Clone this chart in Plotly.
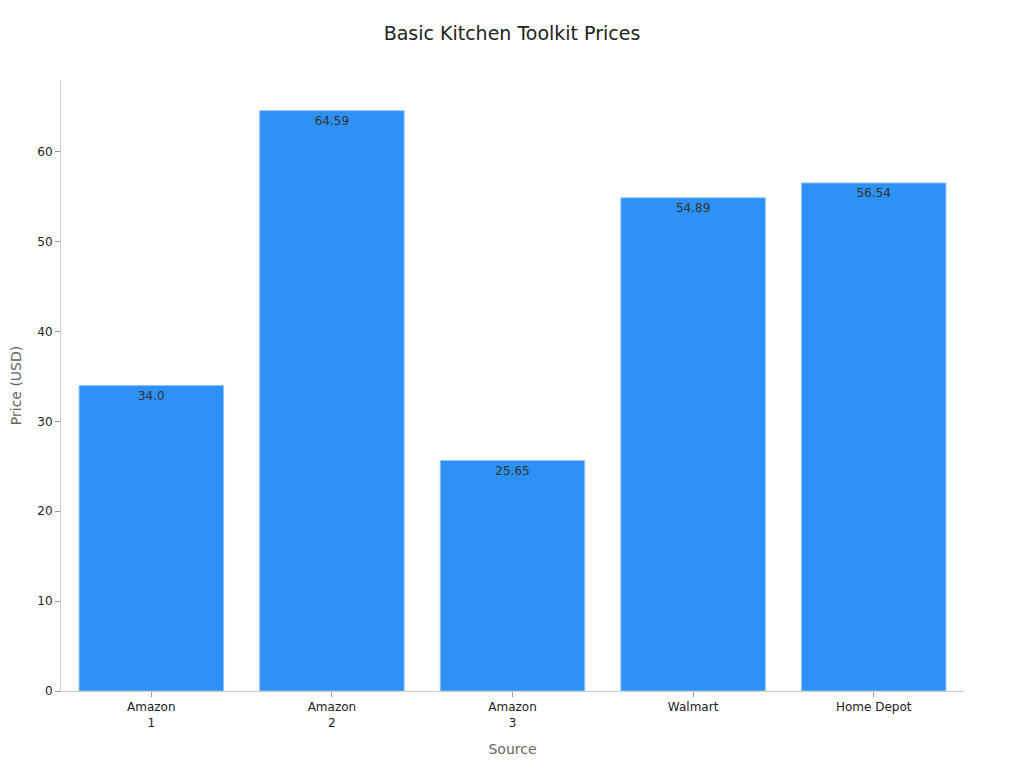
import plotly.graph_objects as go

sources = ["Amazon<br>1", "Amazon<br>2", "Amazon<br>3", "Walmart", "Home Depot"]
prices = [34.0, 64.59, 25.65, 54.89, 56.54]
price_labels = ["34.0", "64.59", "25.65", "54.89", "56.54"]

fig = go.Figure(go.Bar(
    x=sources,
    y=prices,
    text=price_labels,
    textposition="inside",
    insidetextanchor="end",
    textfont=dict(color="#333333", size=12),
    marker=dict(color="#2e91f7", line=dict(color="#8ec3fb", width=1)),
    width=0.8,
))

fig.update_layout(
    title=dict(text="Basic Kitchen Toolkit Prices", x=0.5, xanchor="center",
               y=0.966, yanchor="middle",
               font=dict(size=19, color="#222222")),
    font=dict(family="DejaVu Sans", size=12, color="#222222"),
    plot_bgcolor="white",
    paper_bgcolor="white",
    margin=dict(l=53, r=52, t=72, b=69),
    width=1008,
    height=752,
    showlegend=False,
    bargap=0.2,
)
fig.update_xaxes(
    title=dict(text="Source", font=dict(size=14, color="#666666")),
    showline=True, linecolor="#cccccc", ticks="outside", tickcolor="#999999", ticklen=5,
    showgrid=False, automargin=False,
)
fig.update_yaxes(
    title=dict(text="Price (USD)", font=dict(size=14, color="#666666")),
    showline=True, linecolor="#cccccc", ticks="outside", tickcolor="#999999", ticklen=5,
    showgrid=False, zeroline=False, range=[0, 68], dtick=10, automargin=False,
)

fig.write_html("out.html")
